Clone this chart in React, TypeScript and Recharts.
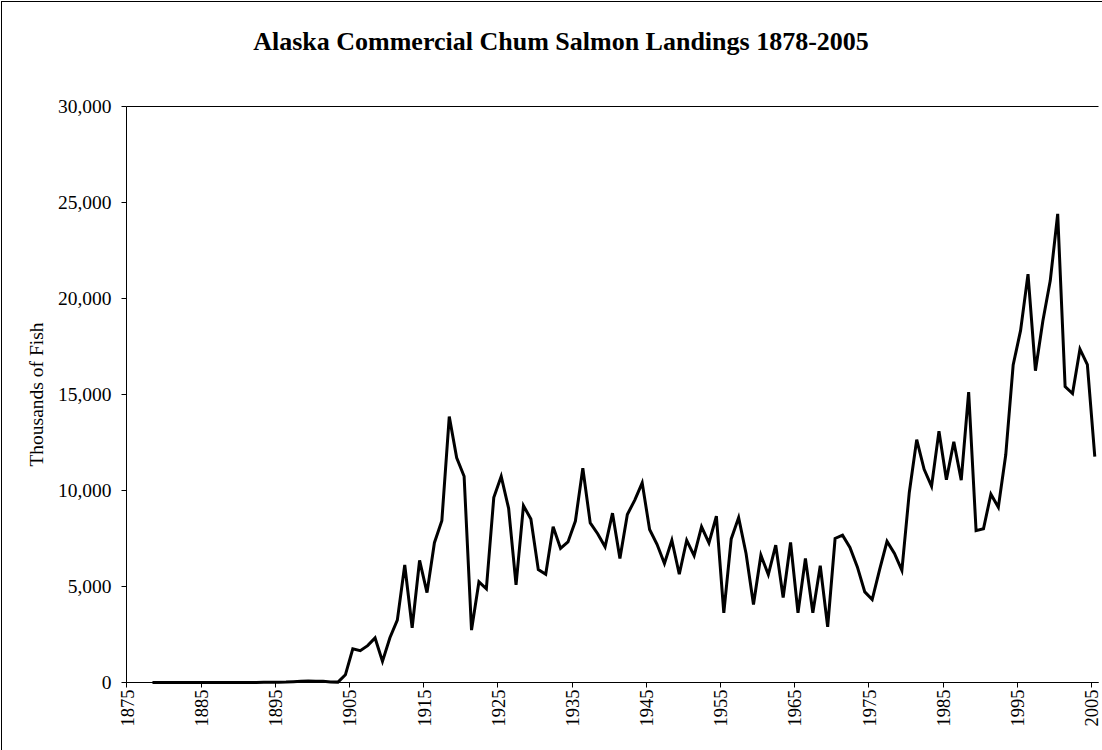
import React from 'react';
import { LineChart, Line, XAxis, YAxis, CartesianGrid } from 'recharts';

// Alaska commercial chum salmon landings, thousands of fish
const firstAxisYear = 1875;
const lastYear = 2005;
const firstDataYear = 1878;

const landings = [
  5, 5, 5, 5, 5, 5, 5, 5, 5, 5, // 1878-1887
  5, 5, 5, 5, 5, 10, 10, 10, 20, 40, // 1888-1897
  60, 80, 70, 60, 30, 20, 400, 1750, 1660, 1920, // 1898-1907
  2320, 1100, 2330, 3250, 6120, 2850, 6360, 4680, 7280, 8430, // 1908-1917
  13850, 11700, 10740, 2730, 5240, 4880, 9630, 10740, 9070, 5080, // 1918-1927
  9210, 8510, 5880, 5640, 8110, 6980, 7320, 8410, 11160, 8310, // 1928-1937
  7750, 7070, 8820, 6460, 8750, 9500, 10400, 7970, 7200, 6200, // 1938-1947
  7410, 5640, 7410, 6610, 8110, 7270, 8660, 3630, 7480, 8590, // 1948-1957
  6720, 4060, 6630, 5620, 7150, 4430, 7290, 3630, 6460, 3630, // 1958-1967
  6080, 2900, 7500, 7670, 7030, 6020, 4720, 4320, 5880, 7350, // 1968-1977
  6720, 5840, 9900, 12650, 11100, 10220, 13090, 10560, 12540, 10540, // 1978-1987
  15130, 7910, 8010, 9810, 9130, 11860, 16540, 18340, 21270, 16240, // 1988-1997
  18830, 20930, 24410, 15410, 15050, 17360, 16560, 11760, // 1998-2005
];

const yTicks = [0, 5000, 10000, 15000, 20000, 25000, 30000];

const years = Array.from({ length: lastYear - firstAxisYear + 1 }, (_, i) => firstAxisYear + i);

const data = years.map((year) => ({
  year,
  fish: year >= firstDataYear ? landings[year - firstDataYear] : null,
}));

const W = 1102;
const H = 750;
// half-pixel margins keep the 1px axis and grid lines crisp
const margin = { top: 106.5, right: 3.5, bottom: 0, left: 0.5 };
const yAxisWidth = 126;
const xAxisHeight = 67.5;
const plotWidth = W - margin.left - margin.right - yAxisWidth;
const band = plotWidth / years.length;
const font = '"Liberation Serif", "Times New Roman", serif';

const XTick = (props: any) => {
  const { x, y, payload } = props;
  const left = Math.round(x - band / 2) + 0.5;
  const tx = x - 2.5;
  return (
    <g>
      <line x1={left} x2={left} y1={y - 7} y2={y - 2} stroke="#000" strokeWidth={1} />
      <text
        x={tx}
        y={y}
        transform={`rotate(-90 ${tx} ${y})`}
        textAnchor="end"
        dominantBaseline="central"
        fontFamily={font}
        fontSize={18.5}
        fill="#000"
      >
        {payload.value}
      </text>
    </g>
  );
};

const YLabel = (props: any) => {
  const { viewBox } = props;
  const cx = 36;
  const cy = viewBox.y + viewBox.height / 2;
  return (
    <text
      x={cx}
      y={cy}
      transform={`rotate(-90 ${cx} ${cy})`}
      textAnchor="middle"
      dominantBaseline="central"
      fontFamily={font}
      fontSize={19.5}
      fill="#000"
    >
      Thousands of Fish
    </text>
  );
};

export default function App() {
  return (
    <div style={{ position: 'absolute', left: 0, top: 0, width: W, height: H, background: '#fff', overflow: 'hidden' }}>
      <div
        style={{
          position: 'absolute',
          left: 1,
          top: 1,
          width: W + 20,
          height: H + 20,
          border: '1px solid #000',
          boxSizing: 'border-box',
        }}
      />
      <div
        style={{
          position: 'absolute',
          left: 0,
          top: 29,
          width: 1122,
          textAlign: 'center',
          fontFamily: font,
          fontWeight: 'bold',
          fontSize: 26,
          lineHeight: '26px',
          color: '#000',
        }}
      >
        Alaska Commercial Chum Salmon Landings 1878-2005
      </div>
      <div style={{ position: 'absolute', left: 0, top: 0 }}>
        <LineChart width={W} height={H} data={data} margin={margin}>
          <CartesianGrid vertical={false} stroke="#000" strokeWidth={1} />
          <XAxis
            dataKey="year"
            type="category"
            scale="band"
            interval={9}
            height={xAxisHeight}
            tickSize={5}
            tickMargin={2}
            tickLine={false}
            tick={<XTick />}
            axisLine={{ stroke: '#000', strokeWidth: 1 }}
          />
          <YAxis
            yAxisId="left"
            width={yAxisWidth}
            domain={[0, 30000]}
            ticks={yTicks}
            interval={0}
            tickSize={5}
            tickMargin={10}
            tickLine={{ stroke: '#000' }}
            axisLine={{ stroke: '#000', strokeWidth: 1 }}
            tickFormatter={(v: number) => v.toLocaleString('en-US')}
            tick={{ fill: '#000', fontFamily: font, fontSize: 19.5 }}
            label={<YLabel />}
          />
          <YAxis
            yAxisId="right"
            orientation="right"
            width={0}
            domain={[0, 30000]}
            tick={false}
            tickLine={false}
            axisLine={{ stroke: '#000', strokeWidth: 1 }}
          />
          <Line
            yAxisId="left"
            dataKey="fish"
            stroke="#000"
            strokeWidth={3}
            dot={false}
            isAnimationActive={false}
            strokeLinejoin="miter"
          />
        </LineChart>
      </div>
    </div>
  );
}
